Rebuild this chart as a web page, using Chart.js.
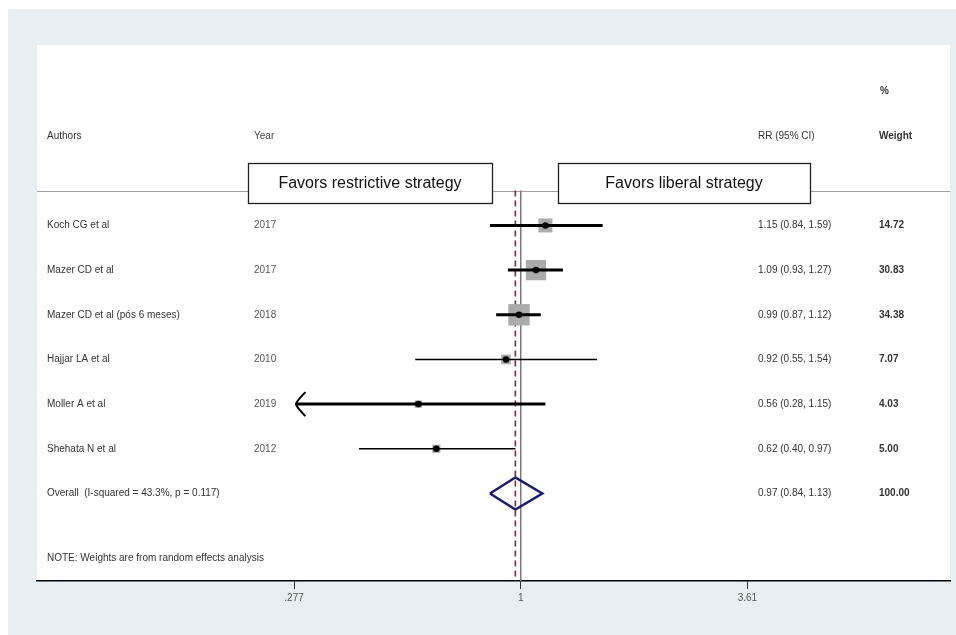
<!DOCTYPE html>
<html>
<head>
<meta charset="utf-8">
<script src="https://cdn.jsdelivr.net/npm/chart.js@4/dist/chart.umd.min.js"></script>
<style>
html,body{margin:0;padding:0;background:#fff;overflow:hidden;}
#wrap{width:956px;height:635px;position:relative;}
</style>
</head>
<body>
<div id="wrap"><canvas id="c" width="956" height="635"></canvas></div>
<script>
// ---- data ----
const authors = ["Koch CG et al", "Mazer CD et al", "Mazer CD et al (pós 6 meses)", "Hajjar LA et al", "Moller A et al", "Shehata N et al"];
const years = ["2017", "2017", "2018", "2010", "2019", "2012"];
const rr = [1.15, 1.09, 0.99, 0.92, 0.56, 0.62];
const ciLow = [0.84, 0.93, 0.87, 0.55, 0.28, 0.40];
const ciHigh = [1.59, 1.27, 1.12, 1.54, 1.15, 0.97];
const weights = [14.72, 30.83, 34.38, 7.07, 4.03, 5.00];
const overallRR = 0.97;
const overallLow = 0.84;
const overallHigh = 1.13;
const overallLabel = "Overall  (I-squared = 43.3%, p = 0.117)";
const overallWeight = "100.00";
const tickValues = [0.277, 1, 3.61];
const tickLabels = [".277", "1", "3.61"];
const arrowLeft = [false, false, false, false, true, false];

// ---- styles ----
const ciWidths = [3, 3, 3, 1.5, 3, 1.5];
const FONT = '"Liberation Sans", Arial, sans-serif';
const n = authors.length;
const rowOverall = n;
const rowHeader = -2;
const rowPct = -3;
const rowSep = -0.78;
const rowNote = 7.45;
const xMin = 0.0646, xMax = 11.37;

const fmt = v => v.toFixed(2);

const datasets = [];
for (let i = 0; i < n; i++) {
  datasets.push({
    type: 'line', data: [{x: ciLow[i], y: i}, {x: ciHigh[i], y: i}],
    borderColor: '#000', borderWidth: ciWidths[i], pointRadius: 0, order: 3
  });
  if (arrowLeft[i]) {
    datasets.push({
      type: 'line',
      data: [{x: ciLow[i] * 1.055, y: i - 0.27}, {x: ciLow[i] * 1.015, y: i - 0.1}, {x: ciLow[i], y: i}, {x: ciLow[i] * 1.015, y: i + 0.1}, {x: ciLow[i] * 1.055, y: i + 0.27}],
      borderColor: '#000', borderWidth: 2, pointRadius: 0, tension: 0.3, order: 3
    });
  }
}
datasets.push({
  type: 'scatter',
  data: rr.map((v, i) => ({x: v, y: i})),
  pointStyle: 'rect',
  pointRadius: ctx => 3.65 * Math.sqrt(weights[ctx.dataIndex]) / Math.SQRT2,
  backgroundColor: '#ababab', borderWidth: 0, order: 4
});
datasets.push({
  type: 'scatter',
  data: rr.map((v, i) => ({x: v, y: i})),
  pointStyle: 'circle', pointRadius: 3.3,
  backgroundColor: '#000', borderColor: '#000', borderWidth: 0, order: 1
});
datasets.push({
  type: 'line', data: [{x: 1, y: rowSep}, {x: 1, y: 7.96}],
  borderColor: '#7a7a7a', borderWidth: 1.5, pointRadius: 0, order: 6
});
datasets.push({
  type: 'line', data: [{x: overallRR, y: rowSep}, {x: overallRR, y: 7.96}],
  borderColor: '#7e2a3a', borderWidth: 1.6, borderDash: [6, 4], pointRadius: 0, order: 5
});
datasets.push({
  type: 'line',
  data: [{x: overallLow, y: rowOverall}, {x: overallRR, y: rowOverall - 0.36}, {x: overallHigh, y: rowOverall}, {x: overallRR, y: rowOverall + 0.36}, {x: overallLow, y: rowOverall}],
  borderColor: '#1c1c6e', borderWidth: 2.5, pointRadius: 0, fill: false, order: 2
});

const bgPlugin = {
  id: 'bg',
  beforeDraw(chart) {
    const {ctx, chartArea: a} = chart;
    ctx.save();
    ctx.fillStyle = '#ffffff';
    ctx.fillRect(0, 0, chart.width, chart.height);
    ctx.fillStyle = '#e8eff2';
    ctx.fillRect(8, 9, chart.width - 8, chart.height - 9);
    ctx.fillStyle = '#ffffff';
    ctx.fillRect(a.left, a.top, a.right - a.left, a.bottom - a.top);
    const ys = chart.scales.y.getPixelForValue(rowSep);
    ctx.strokeStyle = '#a0a0a0';
    ctx.lineWidth = 1;
    ctx.beginPath();
    ctx.moveTo(a.left, Math.round(ys) + 0.5);
    ctx.lineTo(a.right, Math.round(ys) + 0.5);
    ctx.stroke();
    ctx.restore();
  }
};

const textPlugin = {
  id: 'texts',
  afterDraw(chart) {
    const {ctx} = chart;
    const y = chart.scales.y;
    const colA = 47, colY = 254, colRR = 758, colW = 879;
    ctx.save();
    ctx.textBaseline = 'middle';
    ctx.textAlign = 'left';
    const put = (t, x, row, font, color) => {
      ctx.font = font;
      ctx.fillStyle = color;
      ctx.fillText(t, x, y.getPixelForValue(row));
    };
    const f = '10px ' + FONT, fb = 'bold 10px ' + FONT;
    put('%', colW + 1, rowPct, fb, '#333');
    put('Authors', colA, rowHeader, f, '#333');
    put('Year', colY, rowHeader, f, '#444');
    put('RR (95% CI)', colRR, rowHeader, f, '#333');
    put('Weight', colW, rowHeader, fb, '#333');
    for (let i = 0; i < n; i++) {
      put(authors[i], colA, i, f, '#333');
      put(years[i], colY, i, f, '#555');
      put(fmt(rr[i]) + ' (' + fmt(ciLow[i]) + ', ' + fmt(ciHigh[i]) + ')', colRR, i, f, '#333');
      put(fmt(weights[i]), colW, i, fb, '#333');
    }
    put(overallLabel, colA, rowOverall, f, '#333');
    put(fmt(overallRR) + ' (' + fmt(overallLow) + ', ' + fmt(overallHigh) + ')', colRR, rowOverall, f, '#333');
    put(overallWeight, colW, rowOverall, fb, '#333');
    put('NOTE: Weights are from random effects analysis', colA, rowNote, f, '#333');
    const boxes = [
      {t: 'Favors restrictive strategy', x0: 248, x1: 492},
      {t: 'Favors liberal strategy', x0: 558, x1: 810}
    ];
    const yc = 183;
    ctx.font = '16px ' + FONT;
    ctx.textAlign = 'center';
    boxes.forEach(b => {
      ctx.fillStyle = '#fff';
      ctx.fillRect(b.x0, yc - 20, b.x1 - b.x0, 40);
      ctx.strokeStyle = '#222';
      ctx.lineWidth = 1.3;
      ctx.strokeRect(b.x0 + 0.5, yc - 20 + 0.5, b.x1 - b.x0, 40);
      ctx.fillStyle = '#111';
      ctx.fillText(b.t, (b.x0 + b.x1) / 2, yc + 1);
    });
    ctx.restore();
  }
};

new Chart(document.getElementById('c'), {
  type: 'scatter',
  data: {datasets},
  options: {
    responsive: false,
    devicePixelRatio: 1,
    animation: false,
    layout: {autoPadding: false, padding: {left: 37, right: 6, top: 45, bottom: 28}},
    plugins: {legend: {display: false}, tooltip: {enabled: false}},
    scales: {
      x: {
        type: 'logarithmic',
        min: xMin, max: xMax,
        afterBuildTicks: s => { s.ticks = tickValues.map(v => ({value: v})); },
        afterFit: s => { s.paddingLeft = 0; s.paddingRight = 0; },
        ticks: {
          autoSkip: false, maxRotation: 0, padding: 3,
          font: {size: 10, family: FONT}, color: '#555',
          callback: (v, i) => tickLabels[i]
        },
        grid: {drawOnChartArea: false, drawTicks: true, tickLength: 8, color: '#333', lineWidth: 1},
        border: {display: true, color: '#000', width: 1.5}
      },
      y: {
        type: 'linear', reverse: true, min: -4.04, max: 7.96, display: false
      }
    }
  },
  plugins: [bgPlugin, textPlugin]
});
</script>
</body>
</html>
